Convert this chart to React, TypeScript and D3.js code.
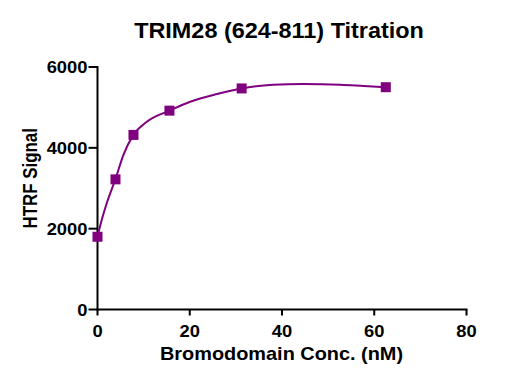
import React from "react";
import * as d3 from "d3";

const title = "TRIM28 (624-811) Titration";
const xLabel = "Bromodomain Conc. (nM)";
const yLabel = "HTRF Signal";

const concentrations = [0, 3.9, 7.8, 15.6, 31.25, 62.5];
const signals = [1800, 3220, 4320, 4920, 5470, 5500];

const fitX = [0, 1, 2, 3.9, 5.6, 7.8, 10.7, 15.6, 20.1, 25.9, 31.25, 38.1, 44.6, 52.6, 57.7, 62.5];
const fitY = [1800, 2250, 2630, 3229, 3822, 4320, 4646, 4920, 5141, 5332, 5470, 5560, 5579, 5562, 5530, 5500];

const xTicks = [0, 20, 40, 60, 80];
const yTicks = [0, 2000, 4000, 6000];

const PURPLE = "#800080";
const FONT = "'Liberation Sans', Arial, sans-serif";

export default function App() {
  const W = 524;
  const H = 384;
  const x = d3.scaleLinear().domain([0, 80]).range([97.5, 466.5]);
  const y = d3.scaleLinear().domain([0, 6000]).range([309.5, 67]);

  const line = d3
    .line<number>()
    .x((_, i) => x(fitX[i]))
    .y((d) => y(d))
    .curve(d3.curveMonotoneX);

  return (
    <svg width={W} height={H} style={{ position: "absolute", left: 0, top: 0, background: "#fff" }}>
      <rect width={W} height={H} fill="#fff" />
      <text
        transform="translate(279,38.3) scale(1.05,1)"
        textAnchor="middle"
        fontFamily={FONT}
        fontWeight="bold"
        fontSize={22.3}
      >
        {title}
      </text>
      {/* y axis */}
      <line x1={x(0)} x2={x(0)} y1={y(6000) - 1} y2={y(0) + 1} stroke="#000" strokeWidth={2} />
      {yTicks.map((t) => (
        <g key={"y" + t}>
          <line x1={x(0) - 9} x2={x(0)} y1={y(t)} y2={y(t)} stroke="#000" strokeWidth={2} />
          <text
            transform={`translate(${x(0) - 10},${y(t) + 6.3}) scale(1.08,1)`}
            textAnchor="end"
            fontFamily={FONT}
            fontWeight="bold"
            fontSize={17}
          >
            {t}
          </text>
        </g>
      ))}
      {/* x axis */}
      <line x1={x(0) - 1} x2={x(80) + 1} y1={y(0)} y2={y(0)} stroke="#000" strokeWidth={2} />
      {xTicks.map((t) => (
        <g key={"x" + t}>
          <line x1={x(t)} x2={x(t)} y1={y(0)} y2={y(0) + 6} stroke="#000" strokeWidth={2} />
          <text
            transform={`translate(${x(t)},337) scale(1.08,1)`}
            textAnchor="middle"
            fontFamily={FONT}
            fontWeight="bold"
            fontSize={17}
          >
            {t}
          </text>
        </g>
      ))}
      <text
        transform="translate(281.5,360) scale(1.07,1)"
        textAnchor="middle"
        fontFamily={FONT}
        fontWeight="bold"
        fontSize={18.6}
      >
        {xLabel}
      </text>
      <text
        transform="translate(37,178.3) scale(1.15,1) rotate(-90)"
        textAnchor="middle"
        fontFamily={FONT}
        fontWeight="bold"
        fontSize={16.9}
      >
        {yLabel}
      </text>
      <path d={line(fitY) || ""} fill="none" stroke={PURPLE} strokeWidth={2} />
      {concentrations.map((c, i) => (
        <rect key={"p" + i} x={x(c) - 5} y={y(signals[i]) - 5} width={10} height={10} fill={PURPLE} />
      ))}
    </svg>
  );
}
